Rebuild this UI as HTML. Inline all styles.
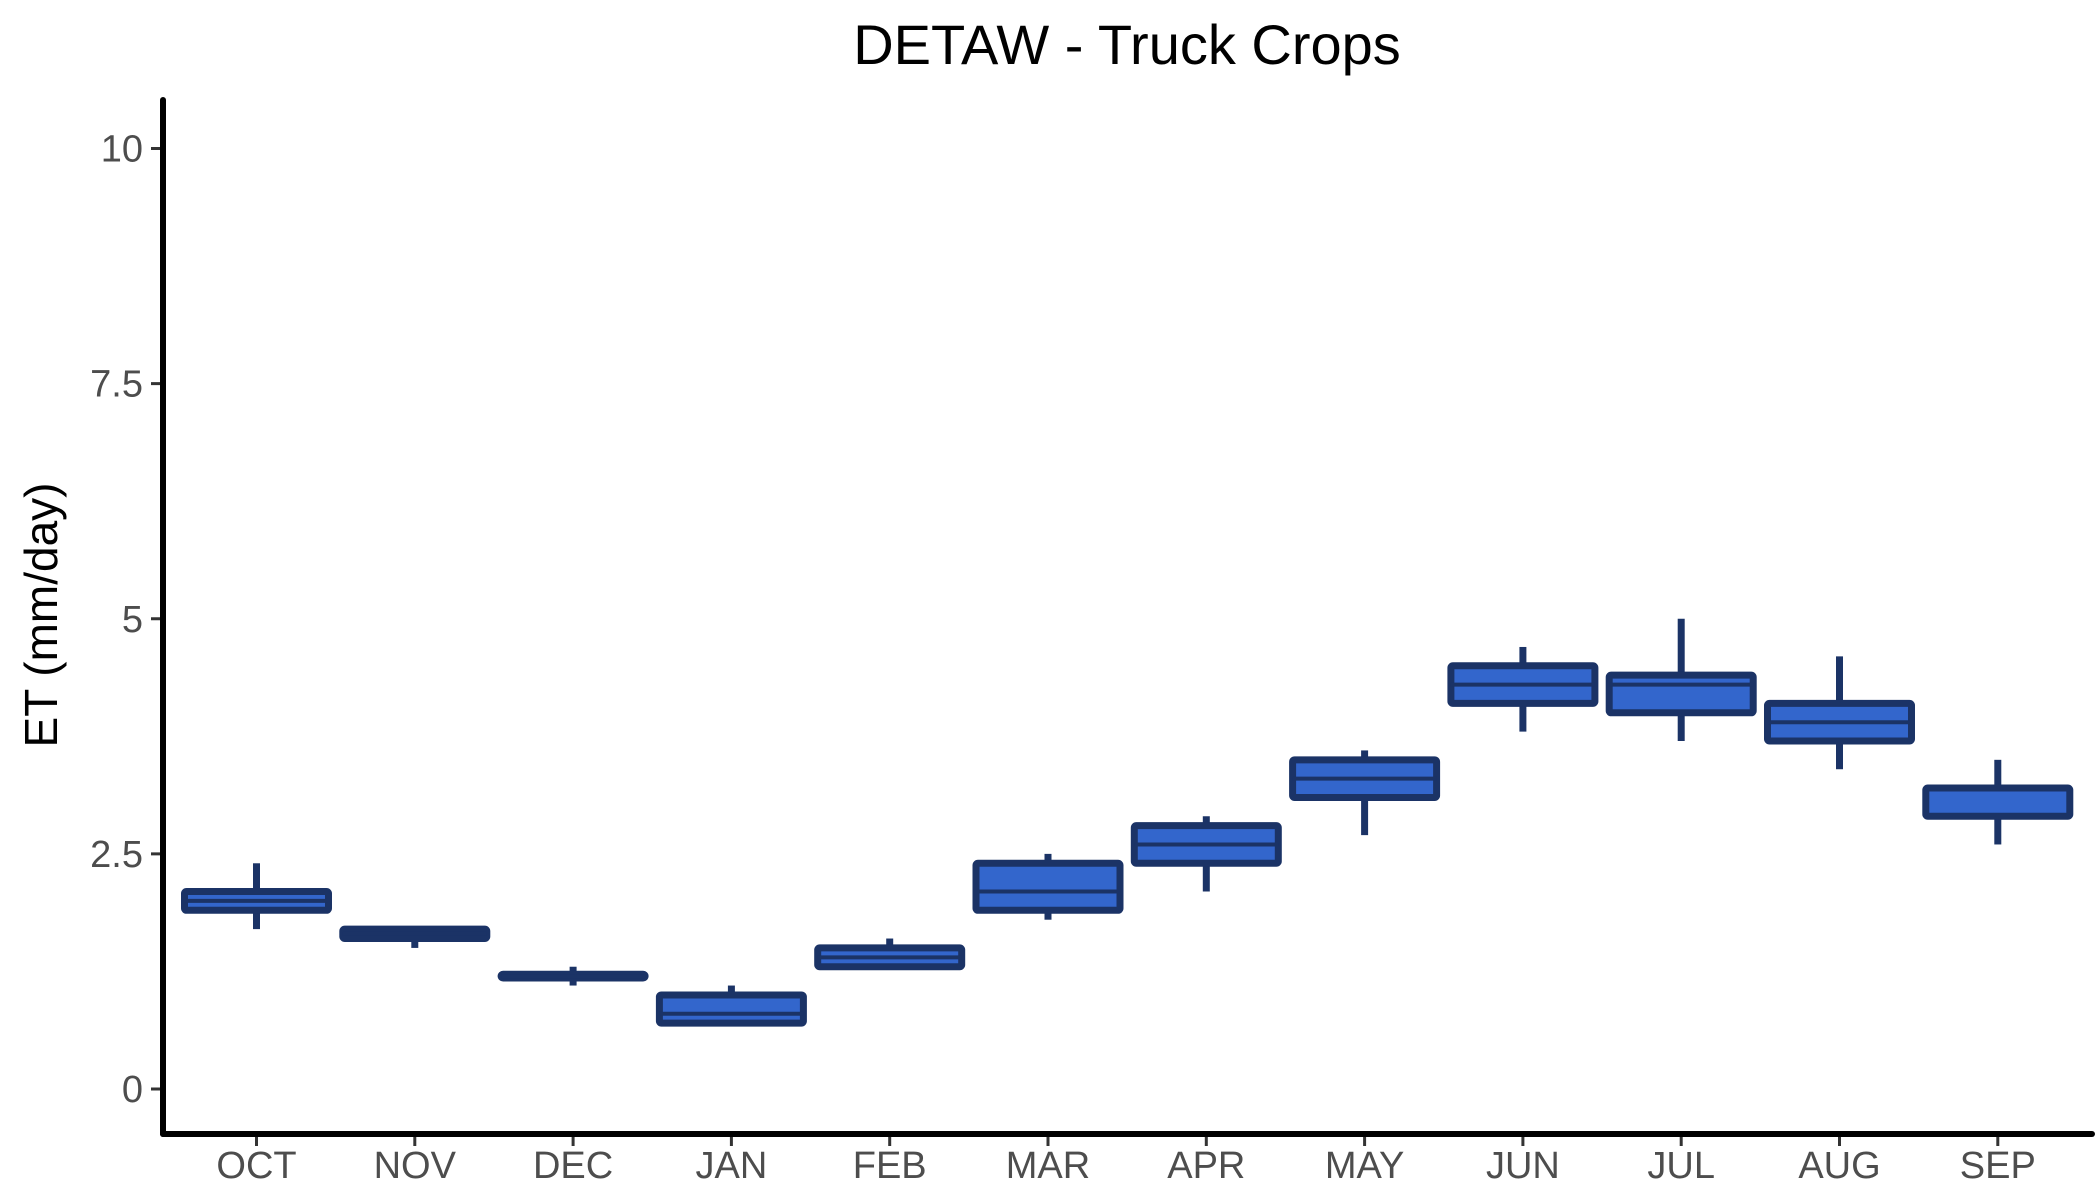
<!DOCTYPE html>
<html><head><meta charset="utf-8"><style>
body{margin:0;background:#fff}
svg{display:block;font-family:"Liberation Sans",Arial,sans-serif}
</style></head><body>
<svg id="chart" width="2100" height="1200" viewBox="0 0 2100 1200">
<text x="1127" y="64" font-size="56" text-anchor="middle" fill="#000">DETAW - Truck Crops</text>
<text transform="translate(57,615) rotate(-90)" font-size="46" text-anchor="middle" fill="#000">ET (mm/day)</text>
<g id="yticks"></g><g id="xticks"></g><g id="boxes"></g>
<line x1="163" y1="100" x2="163" y2="1134" stroke="#000" stroke-width="6" stroke-linecap="round"/>
<line x1="163" y1="1134" x2="2092" y2="1134" stroke="#000" stroke-width="6" stroke-linecap="round"/>
</svg>
<script>
const months=["OCT","NOV","DEC","JAN","FEB","MAR","APR","MAY","JUN","JUL","AUG","SEP"];
const whiskLow=[1.7,1.5,1.1,0.7,1.3,1.8,2.1,2.7,3.8,3.7,3.4,2.6];
const q1=[1.9,1.6,1.18,0.7,1.3,1.9,2.4,3.1,4.1,4.0,3.7,2.9];
const medians=[2.0,1.65,1.2,0.8,1.4,2.1,2.6,3.3,4.3,4.3,3.9,3.2];
const q3=[2.1,1.7,1.22,1.0,1.5,2.4,2.8,3.5,4.5,4.4,4.1,3.2];
const whiskHigh=[2.4,1.7,1.3,1.1,1.6,2.5,2.9,3.6,4.7,5.0,4.6,3.5];
const yTickVals=[0,2.5,5,7.5,10];
const yTickLabels=["0","2.5","5","7.5","10"];
const NS="http://www.w3.org/2000/svg";
function y(v){return 1089-v*94.05;}
function x(i){return 256.5+i*158.3;}
const BW=144;
function mk(tag,attrs,parent){const e=document.createElementNS(NS,tag);for(const k in attrs)e.setAttribute(k,attrs[k]);parent.appendChild(e);return e;}
const yt=document.getElementById('yticks'),xt=document.getElementById('xticks'),bx=document.getElementById('boxes');
yTickVals.forEach((v,i)=>{
 const l=mk('line',{x1:151,x2:163,y1:y(v),y2:y(v),stroke:'#333','stroke-width':3},yt);
 
 
 const t=mk('text',{x:143,y:y(v)+13,'font-size':38,'text-anchor':'end',fill:'#4d4d4d'},yt);
 t.textContent=yTickLabels[i];
 
 
});
months.forEach((m,i)=>{
 const cx=x(i);
 const l=mk('line',{x1:cx,x2:cx,y1:1134,y2:1146,stroke:'#333','stroke-width':3},xt);
 
 
 const t=mk('text',{x:cx,y:1178,'font-size':38,'text-anchor':'middle',fill:'#4d4d4d'},xt);
 t.textContent=m;
 
 
 const g=mk('g',{},bx);
 
 
 mk('line',{x1:cx,x2:cx,y1:y(whiskHigh[i]),y2:y(q3[i]),stroke:'#1b3366','stroke-width':7},g);
 mk('line',{x1:cx,x2:cx,y1:y(q1[i]),y2:y(whiskLow[i]),stroke:'#1b3366','stroke-width':7},g);
 mk('rect',{x:cx-BW/2,y:y(q3[i]),width:BW,height:Math.max(1,y(q1[i])-y(q3[i])),fill:'#3366cc',stroke:'#1b3366','stroke-width':7,rx:2},g);
 mk('line',{x1:cx-BW/2,x2:cx+BW/2,y1:y(medians[i]),y2:y(medians[i]),stroke:'#1b3366','stroke-width':4},g);
});
</script>
</body></html>
